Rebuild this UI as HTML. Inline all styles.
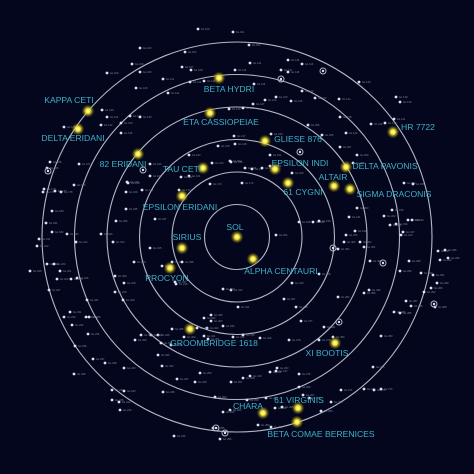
<!DOCTYPE html>
<html><head><meta charset="utf-8"><style>
html,body{margin:0;padding:0;background:#03061c;}
svg{display:block;}
text{font-family:"Liberation Sans",sans-serif;}
</style></head><body>
<svg id="map" width="474" height="474" viewBox="0 0 474 474" xmlns="http://www.w3.org/2000/svg">
<defs>
<radialGradient id="glow">
<stop offset="0" stop-color="#ffffc0"/>
<stop offset="0.35" stop-color="#f5e83a"/>
<stop offset="0.6" stop-color="#c8b820" stop-opacity="0.6"/>
<stop offset="1" stop-color="#807010" stop-opacity="0"/>
</radialGradient>
</defs>
<rect width="474" height="474" fill="#03061c"/>
<g id="rings"></g><g id="small"></g><g id="named"></g>
</svg>
<script>
const cx = 237, cy = 237;
const ringDistances = [1, 2, 3, 4, 5, 6];
const ringScale = 32.5;
const namedStars = ["SOL","SIRIUS","ALPHA CENTAURI","PROCYON","EPSILON ERIDANI","TAU CETI","ETA CASSIOPEIAE","BETA HYDRI","KAPPA CETI","DELTA ERIDANI","82 ERIDANI","GLIESE 876","EPSILON INDI","61 CYGNI","ALTAIR","DELTA PAVONIS","SIGMA DRACONIS","HR 7722","GROOMBRIDGE 1618","XI BOOTIS","CHARA","61 VIRGINIS","BETA COMAE BERENICES"];
const namedX = [237,182,253,170,182,203,210,219,88,78,138,265,275,288,334,346,350,393,190,335,263,298,297];
const namedY = [237,248,259,268,196,168,113,78,111,129,154,141,169,183,186,167,189,132,329,343,413,408,422];
const labelX = [235,187,281,167,180,182,221,229,69,73,123,298,300,303,333,385,394,418,214,327,248,299,321];
const labelY = [230,240,274,281,210,172,125,92,103,141,167,142,166,195,180,169,197,130,346,356,409,403,437];
const smallX = [198,233,249,140,185,132,140,182,191,107,235,163,190,204,250,288,302,281,288,254,136,168,302,315,265,276,291,253,243,229,102,107,101,121,130,140,121,64,340,396,400,394,385,346,339,359,371,234,235,218,271,270,230,189,212,231,245,252,262,270,292,189,181,150,150,50,47,79,128,126,127,142,179,210,242,74,43,55,61,44,52,46,52,67,101,126,116,155,299,313,319,349,355,392,404,413,396,403,408,412,346,390,384,357,276,322,308,340,353,357,401,39,37,76,113,150,172,162,176,124,134,60,47,54,57,71,77,49,30,123,115,70,72,64,86,88,75,93,105,74,124,112,119,124,120,112,174,177,163,195,200,208,215,223,230,213,220,231,247,258,271,275,270,277,266,282,299,303,309,321,331,341,364,374,381,373,299,301,289,319,333,324,338,381,394,400,411,406,435,431,437,433,424,421,440,445,448,438,409,400,370,364,360,344,338,369,364,284,296,319,292,238,231,223,233,243,260,276,243,250,211,204,207,197,184,172,158,151,141,135,158,161,171,162,204,211,223,175,182,115,89,87];
const smallY = [29,32,45,48,52,64,72,67,70,73,70,79,82,81,63,60,64,70,72,84,88,93,91,98,100,97,101,104,108,109,110,117,125,123,116,117,133,127,117,97,102,119,123,133,99,82,124,136,144,146,134,155,161,155,163,162,168,169,168,166,173,176,177,176,164,162,168,164,183,192,182,190,190,184,183,185,192,191,192,189,211,223,232,234,234,209,221,219,222,222,221,217,231,210,183,184,224,232,220,220,235,225,216,208,235,135,125,147,163,155,235,239,246,242,242,248,262,266,284,283,262,271,264,264,279,279,278,290,271,300,292,312,325,317,317,334,346,359,363,374,368,390,402,391,410,400,436,379,392,382,373,339,397,412,410,428,439,382,400,425,427,408,372,368,398,407,387,395,398,411,402,390,389,390,389,367,374,321,340,340,337,327,297,336,312,313,306,301,307,288,283,275,292,273,260,250,258,251,261,271,261,247,242,242,249,290,293,299,307,274,283,307,290,289,337,335,338,371,378,376,321,336,328,328,337,329,335,335,335,340,355,343,345,366,318,315,326,282,262,276,317,300];
const ringStarX = [143,48,323,281,300,333,216,225,383,339,434];
const ringStarY = [170,171,71,79,152,248,428,433,263,322,304];

const NS = "http://www.w3.org/2000/svg";
function mk(tag, attrs, parent){const e=document.createElementNS(NS,tag);for(const k in attrs)e.setAttribute(k,attrs[k]);parent.appendChild(e);return e;}
const rings=document.getElementById('rings'), small=document.getElementById('small'), named=document.getElementById('named');

ringDistances.forEach(d=>{
  const c=mk('circle',{cx:cx,cy:cy,r:d*ringScale,fill:'none',stroke:'#c8ccd8','stroke-width':1.1,opacity:0.9},rings);
  
  
});
smallX.forEach((x,i)=>{
  const y=smallY[i];
  const s=mk('circle',{cx:x,cy:y,r:1.4,fill:'#d8e2f0'},small);
  
  
  const t=mk('text',{x:x+3,y:y+1,'font-size':2.6,fill:'#7f8aa0'},small);
  t.textContent='GL '+(100+i);
  
  
});
ringStarX.forEach((x,i)=>{
  const y=ringStarY[i];
  const g=mk('circle',{cx:x,cy:y,r:3,fill:'none',stroke:'#b0b8c8','stroke-width':1},small);
  
  
  mk('circle',{cx:x,cy:y,r:1.2,fill:'#d8e2f0'},small);
});
namedStars.forEach((n,i)=>{
  const x=namedX[i], y=namedY[i];
  const g=mk('circle',{cx:x,cy:y,r:6.5,fill:'url(#glow)'},named);
  
  
  const t=mk('text',{x:labelX[i],y:labelY[i],'font-size':8.6,fill:'#3fb2c8','text-anchor':'middle'},named);
  t.textContent=n;
  
  
});
</script>
</body></html>
